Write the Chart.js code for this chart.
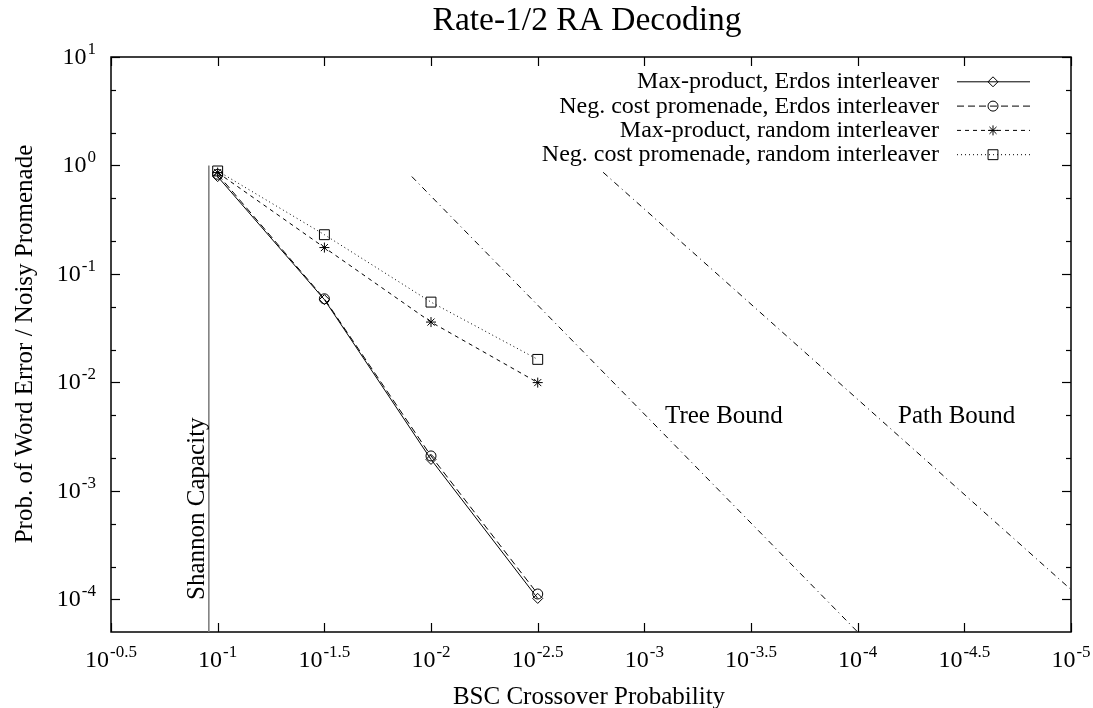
<!DOCTYPE html>
<html><head><meta charset="utf-8">
<script src="https://cdn.jsdelivr.net/npm/chart.js@4.4.0/dist/chart.umd.min.js"></script>
<style>html,body{margin:0;padding:0;background:#fff;}#wrap{width:1093px;height:708px;}</style>
</head><body><div id="wrap"><canvas id="c" width="1093" height="708"></canvas></div>
<script>
// ---- data ----
const crossover      = [0.1, 0.0316, 0.01, 0.00316];
const maxProdErdos   = [0.79, 0.058, 0.00195, 1.02e-4];
const negCostErdos   = [0.83, 0.059, 0.0021, 1.12e-4];
const maxProdRandom  = [0.86, 0.175, 0.036, 0.00996];
const negCostRandom  = [0.89, 0.23, 0.055, 0.0163];
const shannonX = [0.11, 0.11];
const shannonY = [1, 5e-5];
const treeX = [0.0123, 0.0001];
const treeY = [0.79, 5e-5];
const pathX = [0.00156, 0.00001];
const pathY = [0.865, 1.23e-4];
const seriesLabels = ['Max-product, Erdos interleaver','Neg. cost promenade, Erdos interleaver','Max-product, random interleaver','Neg. cost promenade, random interleaver'];
const xTickExps = [-0.5,-1,-1.5,-2,-2.5,-3,-3.5,-4,-4.5,-5];
const yTickExps = [1,0,-1,-2,-3,-4];
const yMinorMult = [2,5];
const titleText = 'Rate-1/2 RA Decoding';
const xTitle = 'BSC Crossover Probability';
const yTitle = 'Prob. of Word Error / Noisy Promenade';

const pts = (xs, ys) => xs.map((v,i)=>({x:v, y:ys[i]}));
const FONT = '"Liberation Serif","Times New Roman",serif';

const styles = [
  {dash:[], ps:'rectRot', r:5},
  {dash:[7,4], ps:'circle', r:5},
  {dash:[4,4], ps:'star', r:5},
  {dash:[1,3], ps:'rect', r:7}
];
const seriesVals = [maxProdErdos, negCostErdos, maxProdRandom, negCostRandom];

const datasets = seriesVals.map((v,i)=>({
  label: seriesLabels[i], data: pts(crossover, v),
  borderColor:'#000', borderWidth:1, borderDash:styles[i].dash,
  pointStyle:styles[i].ps, pointRadius:styles[i].r, pointBorderColor:'#000',
  pointBackgroundColor:'rgba(0,0,0,0)', pointBorderWidth:1, tension:0, fill:false
}));
datasets.push({label:'Shannon', data:pts(shannonX, shannonY), borderColor:'#7a7a7a', borderWidth:1.5, pointRadius:0, fill:false});
datasets.push({label:'Tree', data:pts(treeX, treeY), borderColor:'#000', borderWidth:1, borderDash:[6,4,1,4], pointRadius:0, fill:false});
datasets.push({label:'Path', data:pts(pathX, pathY), borderColor:'#000', borderWidth:1, borderDash:[6,4,1,4], pointRadius:0, fill:false});

function line(ctx,x1,y1,x2,y2){ctx.beginPath();ctx.moveTo(x1,y1);ctx.lineTo(x2,y2);ctx.stroke();}
function fmtExp(e){return Number.isInteger(e)? String(e) : e.toFixed(1);}
function drawPow(ctx, x, baseline, e, align){
  const mainF = '24px '+FONT, supF = '17px '+FONT;
  ctx.font = mainF; const wb = ctx.measureText('10').width;
  ctx.font = supF; const ws = ctx.measureText(fmtExp(e)).width;
  const total = wb + 1 + ws;
  const left = align==='center' ? x - total/2 : x - total;
  ctx.textAlign='left'; ctx.textBaseline='alphabetic'; ctx.fillStyle='#000';
  ctx.font = mainF; ctx.fillText('10', left, baseline);
  ctx.font = supF; ctx.fillText(fmtExp(e), left+wb+1, baseline-10);
}

const gnuAxes = {
  id:'gnuAxes',
  beforeDatasetsDraw(chart){
    const {ctx, chartArea:a, scales:{x,y}} = chart;
    ctx.save();
    ctx.strokeStyle='#000'; ctx.lineWidth=1.2; ctx.setLineDash([]);
    xTickExps.forEach(e=>{
      const px = Math.round(x.getPixelForValue(Math.pow(10,e)))+0.5;
      line(ctx,px,a.bottom,px,a.bottom-9); line(ctx,px,a.top,px,a.top+9);
    });
    yTickExps.forEach(e=>{
      const py = Math.round(y.getPixelForValue(Math.pow(10,e)))+0.5;
      line(ctx,a.left,py,a.left+9,py); line(ctx,a.right,py,a.right-9,py);
      yMinorMult.forEach(m=>{
        const v = m*Math.pow(10,e);
        if (v<=y.max && v>=y.min){
          const q = Math.round(y.getPixelForValue(v))+0.5;
          line(ctx,a.left,q,a.left+5,q); line(ctx,a.right,q,a.right-5,q);
        }
      });
    });
    ctx.lineWidth=1.5;
    ctx.strokeRect(a.left, a.top, a.right-a.left, a.bottom-a.top);
    ctx.restore();
  },
  afterDraw(chart){
    const {ctx, chartArea:a, scales:{x,y}} = chart;
    ctx.save();
    ctx.fillStyle='#000';
    xTickExps.forEach(e=>drawPow(ctx, x.getPixelForValue(Math.pow(10,e)), 667, e, 'center'));
    yTickExps.forEach(e=>drawPow(ctx, 96, y.getPixelForValue(Math.pow(10,e))+7, e, 'right'));
    // titles
    ctx.textBaseline='alphabetic';
    ctx.font='33.5px '+FONT; ctx.textAlign='center'; ctx.fillText(titleText, 587, 30);
    ctx.font='25px '+FONT; ctx.fillText(xTitle, 589, 704);
    ctx.save(); ctx.translate(32, 344); ctx.rotate(-Math.PI/2); ctx.textAlign='center'; ctx.fillText(yTitle,0,0); ctx.restore();
    // annotations
    ctx.textAlign='left';
    ctx.fillText('Tree Bound', 665, 423);
    ctx.fillText('Path Bound', 898, 423);
    ctx.save(); ctx.translate(204, 600); ctx.rotate(-Math.PI/2); ctx.textAlign='left'; ctx.fillText('Shannon Capacity',0,0); ctx.restore();
    // legend
    const rowBase = [88.3, 112.6, 136.9, 161.2];
    seriesLabels.forEach((lab,i)=>{
      ctx.font='24px '+FONT; ctx.textAlign='right'; ctx.fillStyle='#000';
      ctx.fillText(lab, 939, rowBase[i]);
      const cy = rowBase[i]-6.5;
      ctx.strokeStyle='#000'; ctx.lineWidth=1; ctx.setLineDash(styles[i].dash);
      line(ctx, 957, cy, 1030, cy);
      ctx.setLineDash([]);
      ctx.fillStyle='rgba(0,0,0,0)';
      Chart.helpers.drawPoint(ctx, {pointStyle:styles[i].ps, radius:styles[i].r, borderWidth:1, rotation:0}, 993, cy);
      ctx.fillStyle='#000';
    });
    ctx.restore();
  }
};

new Chart(document.getElementById('c'), {
  type:'line',
  data:{datasets},
  options:{
    responsive:false, animation:false, devicePixelRatio:1,
    layout:{padding:{left:111, right:22, top:57, bottom:76}},
    plugins:{legend:{display:false}, title:{display:false}, tooltip:{enabled:false}},
    scales:{
      x:{type:'logarithmic', reverse:true, min:1e-5, max:Math.pow(10,-0.5), display:false},
      y:{type:'logarithmic', min:5e-5, max:10, display:false}
    }
  },
  plugins:[gnuAxes]
});
</script></body></html>
